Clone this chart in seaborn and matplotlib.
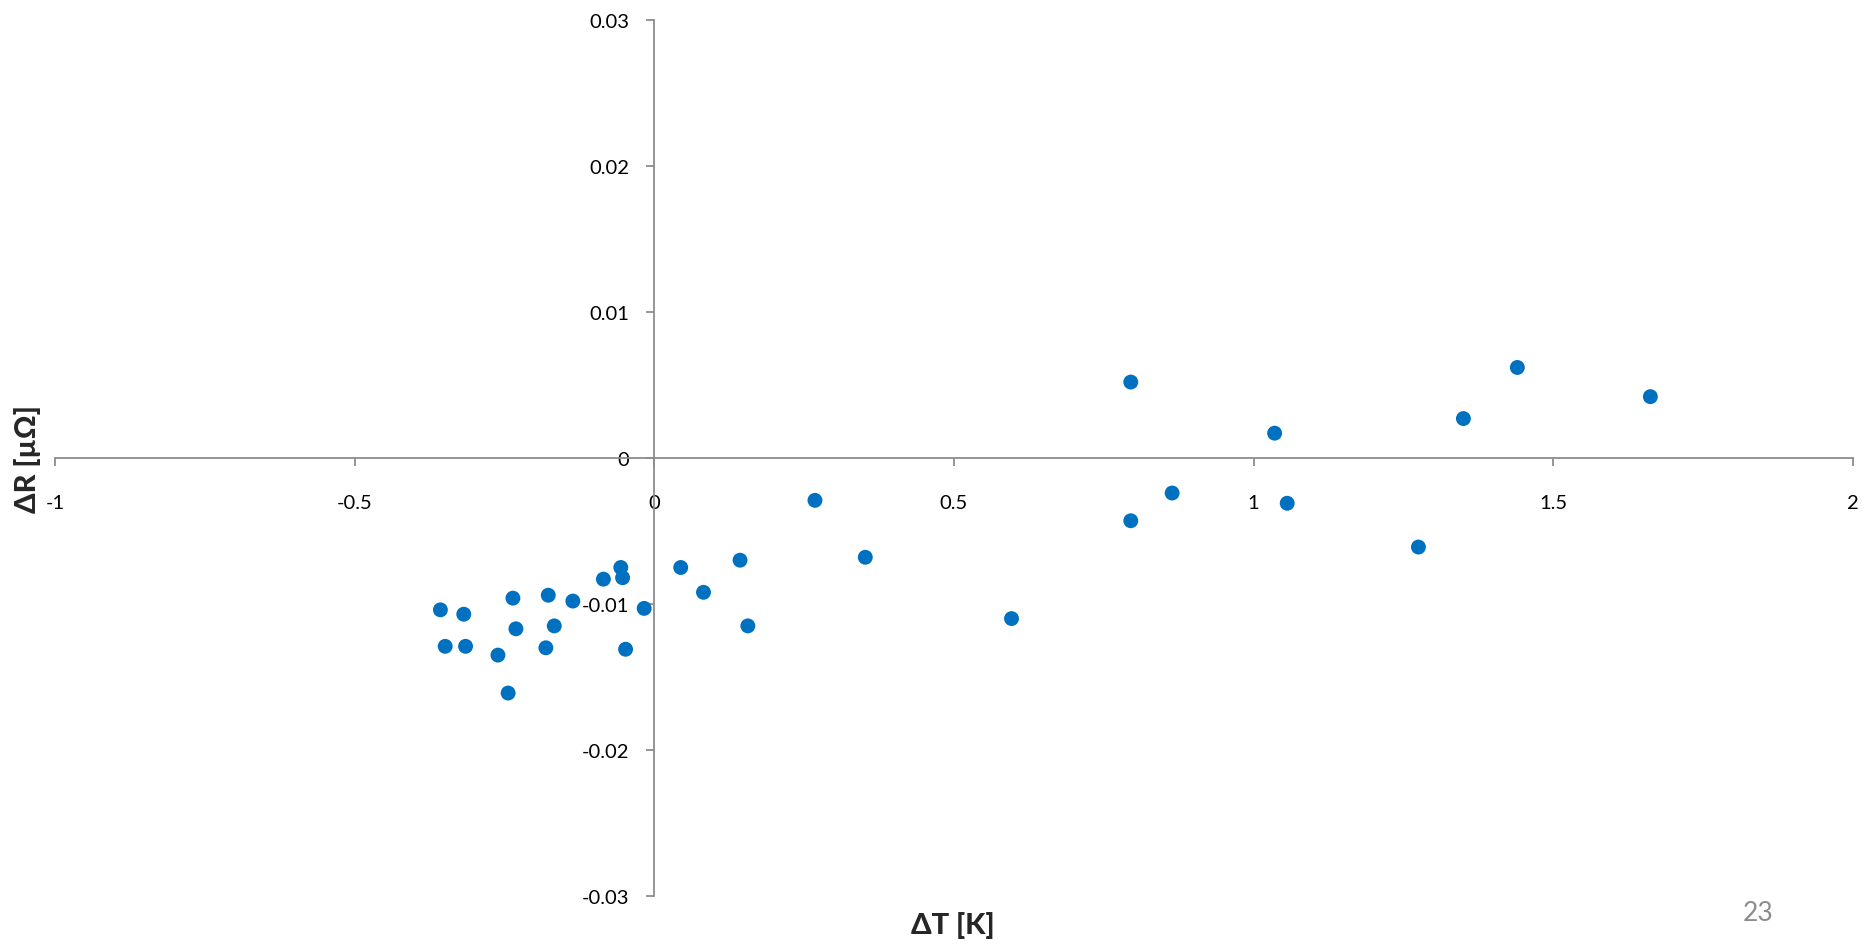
import matplotlib
matplotlib.use("Agg")
import matplotlib.pyplot as plt
import seaborn as sns
import pandas as pd

# Temperature change [K] and resistance change [µΩ] per measurement
delta_t = [-0.357, -0.318, -0.349, -0.315, -0.261, -0.244, -0.236, -0.231,
           -0.177, -0.181, -0.167, -0.136, -0.085, -0.056, -0.053, -0.048,
           -0.017, 0.044, 0.082, 0.143, 0.156, 0.268, 0.352, 0.596,
           0.795, 0.795, 0.864, 1.035, 1.056, 1.275, 1.350, 1.440, 1.662]
delta_r = [-0.0104, -0.0107, -0.0129, -0.0129, -0.0135, -0.0161, -0.0096, -0.0117,
           -0.0094, -0.0130, -0.0115, -0.0098, -0.0083, -0.0075, -0.0082, -0.0131,
           -0.0103, -0.0075, -0.0092, -0.0070, -0.0115, -0.0029, -0.0068, -0.0110,
           0.0052, -0.0043, -0.0024, 0.0017, -0.0031, -0.0061, 0.0027, 0.0062, 0.0042]

x_ticks = [-1, -0.5, 0, 0.5, 1, 1.5, 2]
x_tick_labels = ["-1", "-0.5", "0", "0.5", "1", "1.5", "2"]
y_ticks = [-0.03, -0.02, -0.01, 0, 0.01, 0.02, 0.03]
y_tick_labels = ["-0.03", "-0.02", "-0.01", "0", "0.01", "0.02", "0.03"]

df = pd.DataFrame({"dT": delta_t, "dR": delta_r})

sns.set_theme(style="white")
plt.rcParams["font.family"] = ["Lato", "DejaVu Sans"]

fig = plt.figure(figsize=(18.66, 9.45), dpi=100)
ax = fig.add_axes([0.0295, 0.0508, 0.9635, 0.927])

sns.scatterplot(data=df, x="dT", y="dR", ax=ax, color="#0070C0",
                s=115, edgecolor="none", linewidth=0, zorder=3)

ax.set_xlim(-1, 2)
ax.set_ylim(-0.03, 0.03)

axis_grey = "#8c8c8c"
for side in ("top", "right"):
    ax.spines[side].set_visible(False)
ax.spines["left"].set_position(("data", 0))
ax.spines["bottom"].set_position(("data", 0))
for side in ("left", "bottom"):
    ax.spines[side].set_color(axis_grey)
    ax.spines[side].set_linewidth(1.3)

ax.set_xticks(x_ticks)
ax.set_xticklabels(x_tick_labels)
ax.set_yticks(y_ticks)
ax.set_yticklabels(y_tick_labels)
ax.tick_params(axis="x", direction="out", length=6, width=1.3, color=axis_grey,
               labelsize=14.5, labelcolor="black", pad=20, bottom=True)
ax.tick_params(axis="y", direction="out", length=6, width=1.3, color=axis_grey,
               labelsize=14.5, labelcolor="black", pad=12, left=True)

ax.set_xlabel("ΔT [K]", fontsize=21, fontweight="black", va="center")
ax.xaxis.set_label_coords(0.4995, -0.033)
ax.set_ylabel("ΔR [µΩ]", fontsize=21, fontweight="black", va="center")
ax.yaxis.set_label_coords(-0.0155, 0.5)

fig.text(1758 / 1866, 1 - 914 / 945, "23", ha="center", va="center",
         fontsize=19, color="#8c8c8c")

fig.savefig("out.png", dpi=100)
